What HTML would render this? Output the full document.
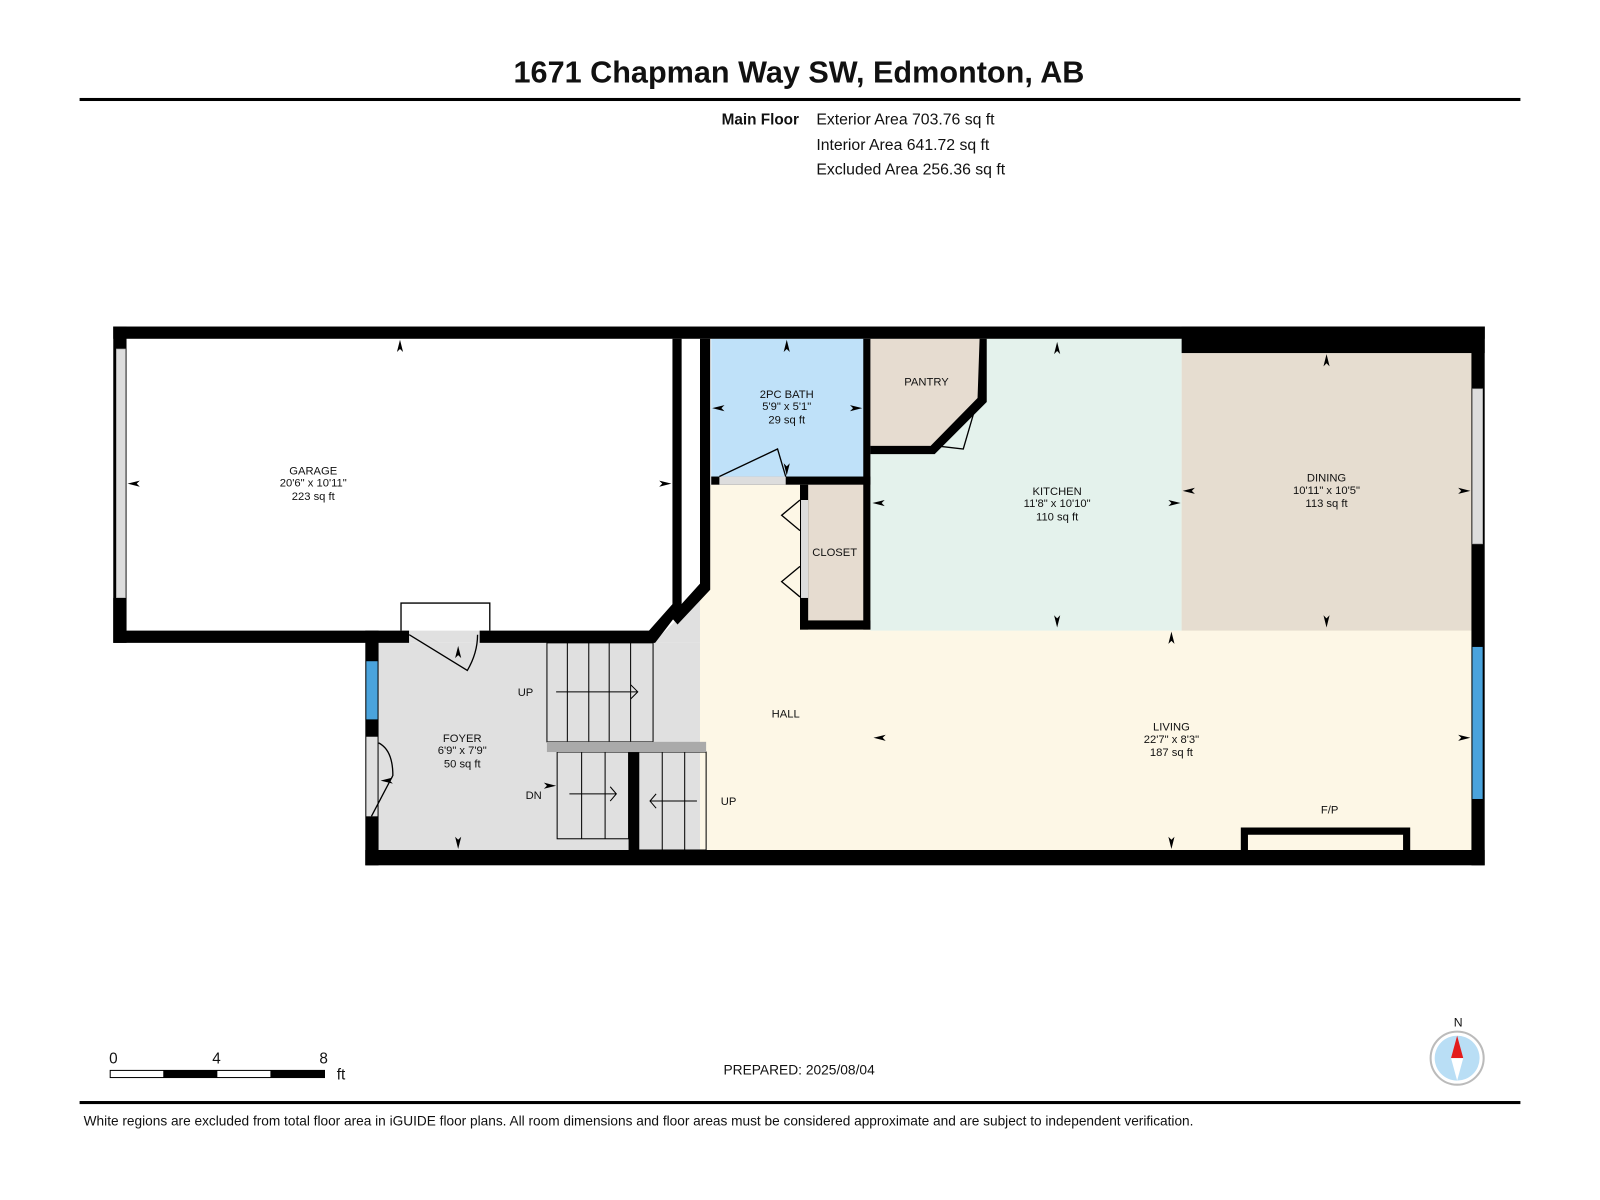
<!DOCTYPE html>
<html><head><meta charset="utf-8"><style>
html,body{margin:0;padding:0;background:#fff;}
svg{display:block;}
text{font-family:"Liberation Sans",Arial,sans-serif;fill:#111;}
</style></head><body>
<svg width="1600" height="1200" viewBox="0 0 1568 1176" xmlns="http://www.w3.org/2000/svg">
<rect width="1568" height="1176" fill="#fff"/>
<text x="783" y="81" font-size="30" font-weight="bold" text-anchor="middle">1671 Chapman Way SW, Edmonton, AB</text>
<rect x="78" y="96" width="1412" height="3" fill="#000"/>
<text x="783" y="122" font-size="15" font-weight="bold" text-anchor="end">Main Floor</text>
<text x="800" y="122" font-size="15.5">Exterior Area 703.76 sq ft</text>
<text x="800" y="147" font-size="15.5">Interior Area 641.72 sq ft</text>
<text x="800" y="171" font-size="15.5">Excluded Area 256.36 sq ft</text>

<!-- floors -->
<rect x="124" y="332" width="536" height="287" fill="#fff"/>
<rect x="371" y="630" width="320" height="204" fill="#e0e0e0"/>
<polygon points="640,630 686,585 686,630" fill="#e0e0e0"/>
<rect x="686" y="475" width="757" height="359" fill="#fdf7e6"/>
<rect x="697" y="332" width="150" height="136" fill="#bfe1f9"/>
<rect x="853" y="332" width="305" height="286" fill="#e4f2ec"/>
<polygon points="853,332 963,332 963,392 914,438 853,438" fill="#e6dcd0"/>
<rect x="1158" y="346" width="285" height="272" fill="#e6ddd0"/>
<rect x="790" y="475" width="57" height="135" fill="#e6dcd0"/>

<!-- walls -->
<g fill="#000">
<rect x="111" y="320" width="1344" height="12"/>
<rect x="1158" y="320" width="297" height="26"/>
<rect x="1442" y="320" width="13" height="528"/>
<rect x="358" y="833" width="1097" height="15"/>
<rect x="358" y="618" width="13" height="230"/>
<rect x="111" y="320" width="13" height="310"/>
<rect x="111" y="618" width="290" height="12"/>
<rect x="470" y="618" width="170" height="12"/>
<polygon points="636,618 659,592 659,332 668,332 668,596 642,630 636,630"/>
<polygon points="686,332 696,332 696,578 664,612 657,604 686,572"/>
<rect x="697" y="467" width="156" height="8"/>
<rect x="846" y="332" width="7" height="285"/>
<rect x="784" y="475" width="8" height="142"/>
<rect x="784" y="608" width="69" height="9"/>
<polygon points="853,437 912,437 958,390 960,332 967,332 967,394 916,445 853,445"/>
<rect x="616" y="731" width="10" height="104"/>
<path d="M1216 811 H1382 V833 H1375 V818 H1223 V833 H1216 Z"/>
</g>
<!-- windows -->
<rect x="114" y="342" width="9" height="244" fill="#ddd" stroke="#999" stroke-width="0.6"/>
<rect x="111" y="586" width="13" height="32" fill="#000"/>
<rect x="359" y="648" width="11" height="57" fill="#4aa3dc"/>
<rect x="359" y="722" width="11" height="78" fill="#e0e0e0"/>
<rect x="1443" y="381" width="10" height="152" fill="#ddd" stroke="#999" stroke-width="0.6"/>
<rect x="1443" y="634" width="10" height="149" fill="#4aa3dc"/>
<!-- door gaps -->
<rect x="401" y="618" width="69" height="12" fill="#e0e0e0"/>
<rect x="705" y="467" width="65" height="8" fill="#ddd"/>
<rect x="785" y="490" width="7" height="96" fill="#ddd"/>
<!-- doors -->
<g fill="none" stroke="#000" stroke-width="1.3">
<path d="M393 618 V591 H480 V618"/>
<path d="M401 622 L458 657 Q468 640 468 622"/>
<path d="M371 728 Q385 735 385 760 L364 800"/>
<path d="M705 467 L762 440 L770 467"/>
<path d="M958 392 L944 440 L918 437"/>
<path d="M784 490 L766 505 L784 520 M784 555 L766 570 L784 585"/>
</g>
<!-- stairs -->
<g fill="none" stroke="#000" stroke-width="1">
<rect x="536" y="630" width="104" height="97"/>
<path d="M556 630V727M577 630V727M597 630V727M618 630V727"/>
<rect x="546" y="737" width="70" height="85"/>
<path d="M570 737V822M593 737V822"/>
<rect x="626" y="737" width="66" height="96"/>
<path d="M649 737V833M671 737V833"/>
<path d="M545 678H625M618 671l7 7-7 7"/>
<path d="M558 778H604M598 771l6 7-6 7"/>
<path d="M683 785H637M643 778l-6 7 6 7"/>
</g>
<rect x="536" y="727" width="156" height="10" fill="#aaa"/>

<!-- labels -->
<g font-size="11" text-anchor="middle">
<text x="307" y="465">GARAGE</text><text x="307" y="477">20'6" x 10'11"</text><text x="307" y="490">223 sq ft</text>
<text x="771" y="390">2PC BATH</text><text x="771" y="402">5'9" x 5'1"</text><text x="771" y="415">29 sq ft</text>
<text x="908" y="378">PANTRY</text>
<text x="818" y="545">CLOSET</text>
<text x="1036" y="485">KITCHEN</text><text x="1036" y="497">11'8" x 10'10"</text><text x="1036" y="510">110 sq ft</text>
<text x="1300" y="472">DINING</text><text x="1300" y="484">10'11" x 10'5"</text><text x="1300" y="497">113 sq ft</text>
<text x="770" y="703">HALL</text>
<text x="1148" y="716">LIVING</text><text x="1148" y="728">22'7" x 8'3"</text><text x="1148" y="741">187 sq ft</text>
<text x="453" y="727">FOYER</text><text x="453" y="739">6'9" x 7'9"</text><text x="453" y="752">50 sq ft</text>
<text x="515" y="682">UP</text><text x="523" y="783">DN</text><text x="714" y="789">UP</text>
<text x="1303" y="797">F/P</text>
</g>
<!-- dimension arrowheads -->
<g fill="#000">
<path d="M392 333l-3 12 3-3 3 3z"/><path d="M125 474l12-3-3 3 3 3z"/><path d="M658 474l-12-3 3 3-3 3z"/>
<path d="M771 333l-3 12 3-3 3 3z"/><path d="M698 400l12-3-3 3 3 3z"/><path d="M845 400l-12-3 3 3-3 3z"/><path d="M771 466l-3-12 3 3 3-3z"/>
<path d="M1036 335l-3 12 3-3 3 3z"/><path d="M1036 615l-3-12 3 3 3-3z"/><path d="M855 493l12-3-3 3 3 3z"/><path d="M1157 493l-12-3 3 3-3 3z"/>
<path d="M1300 347l-3 12 3-3 3 3z"/><path d="M1300 615l-3-12 3 3 3-3z"/><path d="M1159 481l12-3-3 3 3 3z"/><path d="M1441 481l-12-3 3 3-3 3z"/>
<path d="M1148 619l-3 12 3-3 3 3z"/><path d="M1148 832l-3-12 3 3 3-3z"/><path d="M856 723l12-3-3 3 3 3z"/><path d="M1441 723l-12-3 3 3-3 3z"/>
<path d="M449 633l-3 12 3-3 3 3z"/><path d="M449 832l-3-12 3 3 3-3z"/><path d="M373 765l12-3-3 3 3 3z"/><path d="M545 770l-12-3 3 3-3 3z"/>
</g>

<!-- scale bar -->
<g font-size="15">
<text x="107" y="1042">0</text><text x="208" y="1042">4</text><text x="313" y="1042">8</text><text x="330" y="1058">ft</text>
</g>
<rect x="108" y="1049" width="210" height="7" fill="#fff" stroke="#000" stroke-width="1"/>
<rect x="160" y="1049" width="53" height="7" fill="#000"/><rect x="265" y="1049" width="53" height="7" fill="#000"/>
<text x="709" y="1053" font-size="13.5">PREPARED: 2025/08/04</text>
<!-- compass -->
<text x="1429" y="1006" font-size="12" text-anchor="middle">N</text>
<circle cx="1428" cy="1037" r="26" fill="#fff" stroke="#bbb" stroke-width="2"/>
<circle cx="1428" cy="1037" r="22" fill="#b9def5"/>
<polygon points="1428,1015 1422,1037 1434,1037" fill="#e31b1b"/>
<polygon points="1428,1059 1422,1037 1434,1037" fill="#fff"/>
<rect x="78" y="1079" width="1412" height="3" fill="#000"/>
<text x="82" y="1103" font-size="13.4">White regions are excluded from total floor area in iGUIDE floor plans. All room dimensions and floor areas must be considered approximate and are subject to independent verification.</text>
</svg>
</body></html>
